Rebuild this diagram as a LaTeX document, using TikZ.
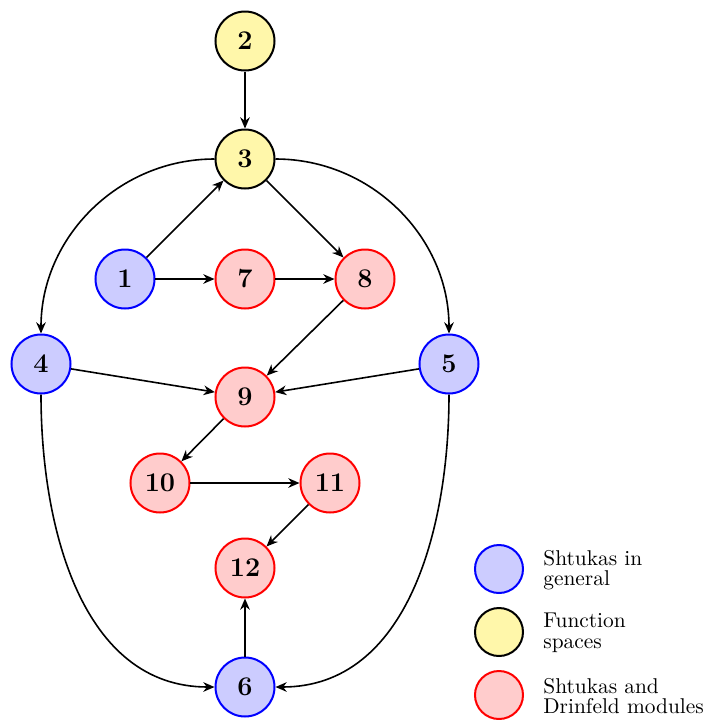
\documentclass[tikz,border=0pt]{standalone}
\usetikzlibrary{arrows.meta}
\definecolor{yfill}{RGB}{255,247,170}
\begin{document}
\begin{tikzpicture}[x=0.5pt,y=-0.5pt,
  base/.style={circle,line width=1pt,minimum size=29.5pt,inner sep=0pt,font=\fontsize{13.5}{16}\selectfont\bfseries},
  shg/.style={base,draw=blue,fill=blue!20},
  fsp/.style={base,draw=black,fill=yfill},
  shd/.style={base,draw=red,fill=red!20},
  leg/.style={minimum size=24pt},
  legtext/.style={anchor=west,inner sep=0pt,align=left,font=\fontsize{10.7}{10.3}\selectfont},
  edge/.style={line width=0.8pt,-{Stealth[length=5.6pt,width=4.8pt,inset=1.8pt]}}]
\useasboundingbox (0,0) rectangle (704,720);
\node[fsp] (n2) at (245,41) {2};
\node[fsp] (n3) at (245,159) {3};
\node[shg] (n1) at (125,279) {1};
\node[shd] (n7) at (245,279) {7};
\node[shd] (n8) at (365,279) {8};
\node[shg] (n4) at (41,364) {4};
\node[shg] (n5) at (449,364) {5};
\node[shd] (n9) at (245,397) {9};
\node[shd] (n10) at (160,483) {10};
\node[shd] (n11) at (330,483) {11};
\node[shd] (n12) at (245,568) {12};
\node[shg] (n6) at (245,687) {6};

\draw[edge] (n2) -- (n3);
\draw[edge] (n1) -- (n3);
\draw[edge] (n1) -- (n7);
\draw[edge] (n7) -- (n8);
\draw[edge] (n3) -- (n8);
\draw[edge] (n8) -- (n9);
\draw[edge] (n4) -- (n9);
\draw[edge] (n5) -- (n9);
\draw[edge] (n9) -- (n10);
\draw[edge] (n10) -- (n11);
\draw[edge] (n11) -- (n12);
\draw[edge] (n6) -- (n12);
\draw[edge] (n3.west) to[out=180,in=90] (n4.north);
\draw[edge] (n3.east) to[out=0,in=90] (n5.north);
\draw[edge] (n4.south) to[out=-90,in=180] (n6.west);
\draw[edge] (n5.south) to[out=-90,in=0] (n6.east);

\node[shg,leg] (l1) at (499,569) {};
\node[fsp,leg] (l2) at (499,632) {};
\node[shd,leg] (l3) at (499,695) {};
\node[legtext] (t1) at (543,570) {Shtukas in\\general};
\node[legtext] (t2) at (543,633) {Function\\spaces};
\node[legtext] (t3) at (543,696) {Shtukas and\\Drinfeld modules};
\end{tikzpicture}
\end{document}
